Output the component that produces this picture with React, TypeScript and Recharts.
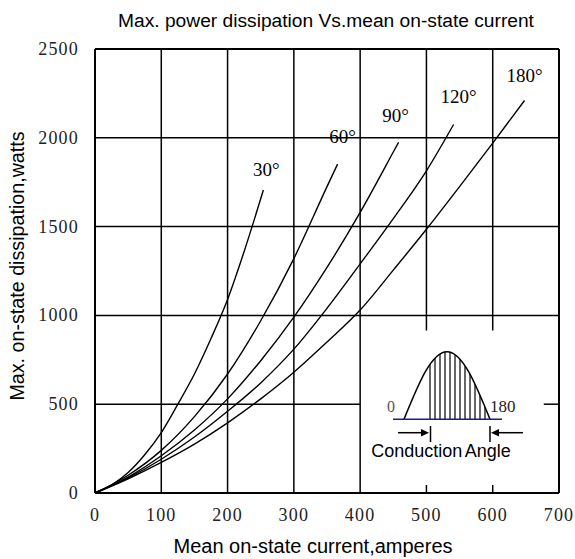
import { LineChart, Line, XAxis, YAxis, ReferenceLine } from "recharts";

// axis ticks
const currentTicks = [0, 100, 200, 300, 400, 500, 600, 700];
const powerTicks = [0, 500, 1000, 1500, 2000, 2500];

// curves (amperes -> watts)
const amps30 = [0, 25, 50, 75, 100, 125, 150, 175, 200, 225, 254];
const watts30 = [0, 45, 115, 215, 340, 500, 670, 870, 1090, 1360, 1706];

const amps60 = [0, 50, 100, 150, 200, 250, 300, 350, 366];
const watts60 = [0, 100, 240, 430, 670, 970, 1320, 1725, 1852];

const amps90 = [0, 50, 100, 150, 200, 250, 300, 350, 400, 450, 458];
const watts90 = [0, 90, 210, 355, 530, 745, 990, 1270, 1580, 1920, 1975];

const amps120 = [0, 50, 100, 150, 200, 250, 300, 350, 400, 450, 500, 541];
const watts120 = [0, 85, 190, 315, 460, 620, 810, 1040, 1290, 1545, 1814, 2075];

const amps180 = [0, 50, 100, 150, 200, 250, 300, 350, 400, 450, 500, 550, 600, 648];
const watts180 = [0, 80, 172, 275, 395, 530, 680, 850, 1030, 1255, 1485, 1725, 1970, 2210];

const angleLabels = ["30°", "60°", "90°", "120°", "180°"];

// where the label sits relative to the curve's last point (px)
const labelOffsets = [
  [3, -14],
  [5, -21],
  [-3, -20],
  [5, -21],
  [0, -19],
];

// grid: full lines, and the two verticals / one horizontal cut by the inset
const fullVerticals = [100, 200, 300, 400];
const cutVerticals = [500, 600];
const fullHorizontals = [1000, 1500, 2000];

const toPoints = (amps: number[], watts: number[]) =>
  amps.map((a, i) => ({ amps: a, watts: watts[i] }));

const series = [
  toPoints(amps30, watts30),
  toPoints(amps60, watts60),
  toPoints(amps90, watts90),
  toPoints(amps120, watts120),
  toPoints(amps180, watts180),
];

const serif = "'Liberation Serif', 'Times New Roman', serif";
const sans = "'Liberation Sans', Arial, sans-serif";

function endLabel(text: string, lastIndex: number, dx: number, dy: number) {
  return (props: any) => {
    if (props.index !== lastIndex) return null;
    return (
      <text
        x={props.x + dx}
        y={props.y + dy}
        textAnchor="middle"
        fontFamily={serif}
        fontSize={19}
        fill="#000"
      >
        {text}
      </text>
    );
  };
}

const XTick = ({ x, y, payload }: any) => (
  <text x={x} y={y + 28} textAnchor="middle" fontFamily={serif} fontSize={18} letterSpacing={1.2} fill="#222">
    {payload.value}
  </text>
);

const YTick = ({ x, y, payload }: any) => (
  <text x={x} y={y + 6} textAnchor="end" fontFamily={serif} fontSize={18} letterSpacing={1.2} fill="#222">
    {payload.value}
  </text>
);

const gridStroke = { stroke: "#000", strokeWidth: 1.5 };

function Inset() {
  const hump = "M404,419.3 C418.4,383.8 431.5,351.7 447,351.7 C462.5,351.7 475.6,383.8 490,419.3";
  const hatches: number[] = [];
  for (let hx = 430; hx <= 486; hx += 5) hatches.push(hx);

  return (
    <g>
      <rect x={361.5} y={331} width={181} height={154} fill="#fff" />
      <defs>
        <clipPath id="humpClip">
          <path d={hump + " Z"} />
        </clipPath>
      </defs>
      <g clipPath="url(#humpClip)">
        {hatches.map((hx) => (
          <line key={hx} x1={hx} y1={340} x2={hx} y2={420} stroke="#000" strokeWidth={1.2} />
        ))}
      </g>
      <path d={hump} fill="none" stroke="#000" strokeWidth={1.5} />
      <line x1={393} y1={419.3} x2={502} y2={419.3} stroke="#1c1c9a" strokeWidth={1.5} />
      <text x={391} y={412} textAnchor="middle" fontFamily={serif} fontSize={16} fill="#555">0</text>
      <text x={490} y={412} fontFamily={serif} fontSize={17} fill="#222">180</text>

      <line x1={398} y1={432.7} x2={423} y2={432.7} stroke="#000" strokeWidth={1.5} />
      <polygon points="421,429 429,432.7 421,436.4" fill="#000" />
      <line x1={430.5} y1={426} x2={430.5} y2={442} stroke="#000" strokeWidth={1.5} />

      <line x1={523} y1={432.7} x2={497} y2={432.7} stroke="#000" strokeWidth={1.5} />
      <polygon points="499,429 491,432.7 499,436.4" fill="#000" />
      <line x1={490} y1={426} x2={490} y2={442} stroke="#000" strokeWidth={1.5} />

      <text x={441} y={457} textAnchor="middle" fontFamily={sans} fontSize={18} wordSpacing={-1.5} fill="#000">
        Conduction Angle
      </text>
    </g>
  );
}

export default function App() {
  return (
    <div style={{ position: "absolute", left: 0, top: 0, width: 575, height: 559, background: "#fff" }}>
      <LineChart width={575} height={559} margin={{ top: 49, right: 16, bottom: 0, left: 0 }}>
        <XAxis
          type="number"
          dataKey="amps"
          domain={[0, 700]}
          ticks={currentTicks}
          height={66}
          tickSize={0}
          tickMargin={0}
          tickLine={false}
          axisLine={{ stroke: "#000", strokeWidth: 2 }}
          tick={<XTick />}
          allowDuplicatedCategory={false}
        />
        <YAxis
          type="number"
          dataKey="watts"
          domain={[0, 2500]}
          ticks={powerTicks}
          width={95}
          tickSize={0}
          tickMargin={16}
          tickLine={false}
          axisLine={{ stroke: "#000", strokeWidth: 2 }}
          tick={<YTick />}
        />

        {fullVerticals.map((v) => (
          <ReferenceLine key={`v${v}`} segment={[{ x: v, y: 0 }, { x: v, y: 2500 }]} {...gridStroke} />
        ))}
        {cutVerticals.map((v) => (
          <ReferenceLine key={`cv${v}`} segment={[{ x: v, y: 915 }, { x: v, y: 2500 }]} {...gridStroke} />
        ))}
        {cutVerticals.map((v) => (
          <ReferenceLine key={`cb${v}`} segment={[{ x: v, y: 0 }, { x: v, y: 45 }]} {...gridStroke} />
        ))}
        {fullHorizontals.map((h) => (
          <ReferenceLine key={`h${h}`} segment={[{ x: 0, y: h }, { x: 700, y: h }]} {...gridStroke} />
        ))}
        <ReferenceLine segment={[{ x: 0, y: 500 }, { x: 400, y: 500 }]} {...gridStroke} />
        <ReferenceLine segment={[{ x: 677, y: 500 }, { x: 700, y: 500 }]} {...gridStroke} />
        <ReferenceLine segment={[{ x: 0, y: 2500 }, { x: 700, y: 2500 }]} stroke="#000" strokeWidth={2} />
        <ReferenceLine segment={[{ x: 700, y: 0 }, { x: 700, y: 2500 }]} stroke="#000" strokeWidth={2} />

        {series.map((data, i) => (
          <Line
            key={angleLabels[i]}
            data={data}
            dataKey="watts"
            type="monotone"
            stroke="#000"
            strokeWidth={1.4}
            dot={false}
            activeDot={false}
            isAnimationActive={false}
            label={endLabel(angleLabels[i], data.length - 1, labelOffsets[i][0], labelOffsets[i][1])}
          />
        ))}
      </LineChart>

      <svg
        width={575}
        height={559}
        style={{ position: "absolute", left: 0, top: 0, pointerEvents: "none" }}
      >
        <text x={326} y={27} textAnchor="middle" fontFamily={sans} fontSize={19.2} fill="#000">
          Max. power dissipation Vs.mean on-state current
        </text>
        <text
          x={0}
          y={0}
          transform="translate(24,266) rotate(-90)"
          textAnchor="middle"
          fontFamily={sans}
          fontSize={19.7}
          fill="#000"
        >
          Max. on-state dissipation,watts
        </text>
        <text x={313} y={553} textAnchor="middle" fontFamily={sans} fontSize={20} fill="#000">
          Mean on-state current,amperes
        </text>
        <Inset />
      </svg>
    </div>
  );
}
